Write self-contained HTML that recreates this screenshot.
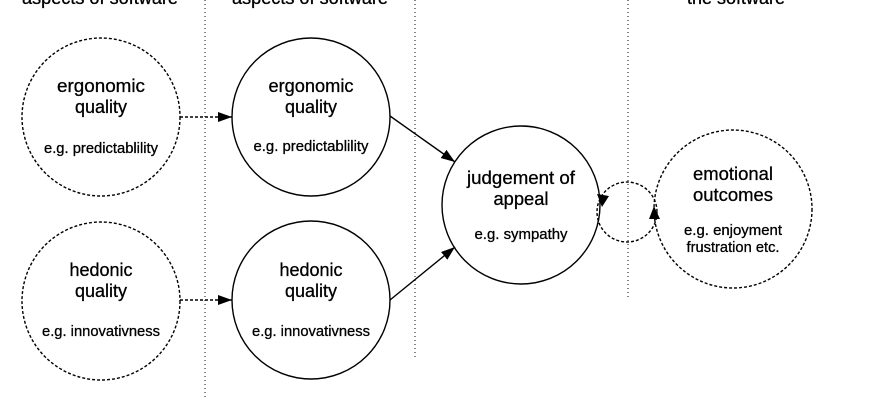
<!DOCTYPE html>
<html><head><meta charset="utf-8"><style>
html,body{margin:0;padding:0;background:#fff;}
svg{display:block;}
text{font-family:"Liberation Sans",Arial,sans-serif;fill:#000;stroke:#000;stroke-width:0.3;}
</style></head><body>
<svg width="870" height="400" viewBox="0 0 870 400" xmlns="http://www.w3.org/2000/svg">
<defs>
<marker id="ah2" markerWidth="14" markerHeight="10" refX="14" refY="5" orient="auto" markerUnits="userSpaceOnUse">
<path d="M0,0 L14,5 L0,10 z" fill="#000" stroke="none"/></marker>
</defs>
<text x="22" y="4" font-size="18" textLength="156" lengthAdjust="spacingAndGlyphs">aspects of software</text>
<text x="232" y="4" font-size="18" textLength="156" lengthAdjust="spacingAndGlyphs">aspects of software</text>
<text x="687" y="4" font-size="18" textLength="98" lengthAdjust="spacingAndGlyphs">the software</text>
<g stroke="#333" stroke-width="1.2" stroke-dasharray="1 3">
<line x1="205" y1="0" x2="205" y2="400"/>
<line x1="415" y1="0" x2="415" y2="360"/>
<line x1="628" y1="0" x2="628" y2="300"/>
</g>
<g fill="none" stroke="#000" stroke-width="1.4">
<circle cx="101" cy="117" r="79" stroke-dasharray="3 2"/>
<circle cx="101" cy="301" r="79" stroke-dasharray="3 2"/>
<circle cx="311" cy="117" r="79"/>
<circle cx="311" cy="300" r="79"/>
<circle cx="521" cy="205" r="79"/>
<circle cx="627" cy="212" r="30" stroke-dasharray="3 2"/>
<circle cx="733" cy="209" r="79" stroke-dasharray="3 2"/>
</g>
<g stroke="#000" stroke-width="1.4" fill="none">
<line x1="180" y1="117" x2="232" y2="117" stroke-dasharray="3 2" marker-end="url(#ah2)"/>
<line x1="180" y1="300" x2="232" y2="300" stroke-dasharray="3 2" marker-end="url(#ah2)"/>
<line x1="390" y1="116" x2="455" y2="162" marker-end="url(#ah2)"/>
<line x1="390" y1="300" x2="455" y2="247" marker-end="url(#ah2)"/>
</g>
<path d="M597,194 L609,196 L602,207 z" fill="#000"/>
<path d="M654,206 L649,219 L660,219 z" fill="#000"/>
<g font-size="18.5" text-anchor="middle" lengthAdjust="spacingAndGlyphs">
<text x="101" y="92" textLength="88" lengthAdjust="spacingAndGlyphs">ergonomic</text><text x="101" y="113" textLength="52" lengthAdjust="spacingAndGlyphs">quality</text>
<text x="311" y="92" textLength="85" lengthAdjust="spacingAndGlyphs">ergonomic</text><text x="311" y="113" textLength="52" lengthAdjust="spacingAndGlyphs">quality</text>
<text x="101" y="276" textLength="63" lengthAdjust="spacingAndGlyphs">hedonic</text><text x="101" y="297" textLength="52" lengthAdjust="spacingAndGlyphs">quality</text>
<text x="311" y="276" textLength="63" lengthAdjust="spacingAndGlyphs">hedonic</text><text x="311" y="297" textLength="52" lengthAdjust="spacingAndGlyphs">quality</text>
<text x="521" y="184" textLength="108" lengthAdjust="spacingAndGlyphs">judgement of</text><text x="521" y="205" textLength="55" lengthAdjust="spacingAndGlyphs">appeal</text>
<text x="733" y="180" textLength="80" lengthAdjust="spacingAndGlyphs">emotional</text><text x="733" y="201" textLength="80" lengthAdjust="spacingAndGlyphs">outcomes</text>
</g>
<g font-size="14.5" text-anchor="middle">
<text x="101" y="153" textLength="114" lengthAdjust="spacingAndGlyphs">e.g. predictablility</text>
<text x="311" y="151" textLength="115" lengthAdjust="spacingAndGlyphs">e.g. predictablility</text>
<text x="101" y="336" textLength="118" lengthAdjust="spacingAndGlyphs">e.g. innovativness</text>
<text x="311" y="336" textLength="118" lengthAdjust="spacingAndGlyphs">e.g. innovativness</text>
<text x="521" y="239" textLength="93" lengthAdjust="spacingAndGlyphs">e.g. sympathy</text>
<text x="733" y="235" textLength="98" lengthAdjust="spacingAndGlyphs">e.g. enjoyment</text>
<text x="733" y="252" textLength="93" lengthAdjust="spacingAndGlyphs">frustration etc.</text>
</g>
</svg>
</body></html>
